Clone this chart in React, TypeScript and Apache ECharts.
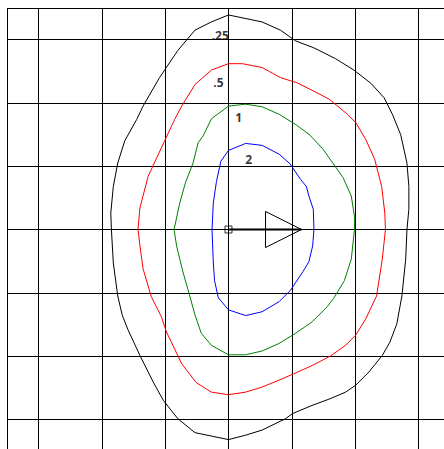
import React, { useEffect, useRef } from "react";
import * as echarts from "echarts";

// contour levels (labels) and colours
const levelLabels = [".25", ".5", "1", "2"];
const levelColors = ["#000000", "#ff0000", "#008000", "#0000ff"];

// contour loops in axis units, clockwise from the top
const contour025: [number, number][] = [
  [0, 3.39], [0.53, 3.28], [0.82, 3.15], [1.06, 2.98], [1.35, 2.87], [1.69, 2.7],
  [1.98, 2.52], [2.25, 2.31], [2.46, 2.08], [2.59, 1.82], [2.72, 1.5], [2.82, 1.05],
  [2.85, 0.68], [2.85, 0.32], [2.82, 0], [2.8, -0.47], [2.74, -1.05], [2.66, -1.49],
  [2.55, -1.78], [2.43, -1.99], [2.22, -2.25], [2.01, -2.46], [1.85, -2.57], [1.59, -2.68],
  [1.32, -2.78], [1.01, -2.91], [0.9, -2.99], [0.53, -3.17], [0.27, -3.25], [0, -3.32],
  [-0.53, -3.21], [-0.8, -2.99], [-1.03, -2.7], [-1.19, -2.41], [-1.4, -1.99], [-1.59, -1.58],
  [-1.68, -1.35], [-1.75, -1.05], [-1.82, -0.53], [-1.85, 0], [-1.86, 0.26], [-1.82, 0.68],
  [-1.75, 1.05], [-1.64, 1.4], [-1.45, 1.74], [-1.35, 1.95], [-1.09, 2.4], [-0.8, 2.83],
  [-0.53, 3.15], [-0.27, 3.28],
];
const contour05: [number, number][] = [
  [0, 2.62], [0.22, 2.62], [0.53, 2.56], [0.82, 2.4], [1.08, 2.32], [1.32, 2.2],
  [1.59, 2.06], [1.88, 1.82], [2.01, 1.69], [2.17, 1.42], [2.31, 1.11], [2.42, 0.68],
  [2.47, 0.26], [2.48, 0], [2.43, -0.47], [2.34, -1.05], [2.17, -1.41], [2.01, -1.67],
  [1.85, -1.83], [1.61, -2.0], [1.32, -2.15], [1.03, -2.28], [0.8, -2.38], [0.53, -2.49],
  [0.27, -2.57], [0, -2.61], [-0.27, -2.57], [-0.51, -2.42], [-0.74, -2.12], [-0.98, -1.62],
  [-1.06, -1.38], [-1.22, -1.06], [-1.35, -0.62], [-1.4, -0.25], [-1.43, 0], [-1.4, 0.34],
  [-1.27, 0.84], [-1.01, 1.4], [-0.85, 1.74], [-0.74, 1.95], [-0.53, 2.29], [-0.27, 2.52],
];
const contour1: [number, number][] = [
  [0, 1.95], [0.27, 1.98], [0.53, 1.94], [0.8, 1.82], [1.06, 1.66], [1.29, 1.49],
  [1.5, 1.26], [1.81, 0.82], [1.94, 0.53], [1.99, 0.21], [1.99, 0], [1.94, -0.47],
  [1.83, -0.81], [1.66, -1.09], [1.56, -1.22], [1.32, -1.46], [1.06, -1.64], [0.8, -1.8],
  [0.53, -1.92], [0.27, -1.98], [0, -1.98], [-0.27, -1.83], [-0.43, -1.64], [-0.53, -1.35],
  [-0.64, -0.95], [-0.72, -0.67], [-0.82, -0.26], [-0.86, 0], [-0.77, 0.42], [-0.68, 0.74],
  [-0.56, 1.05], [-0.48, 1.37], [-0.4, 1.48], [-0.27, 1.75],
];
const contour2: [number, number][] = [
  [0, 1.25], [0.27, 1.36], [0.53, 1.33], [0.8, 1.19], [0.97, 1.04], [1.14, 0.79],
  [1.23, 0.68], [1.27, 0.53], [1.34, 0.32], [1.35, 0], [1.33, -0.26], [1.27, -0.51],
  [1.18, -0.66], [0.98, -0.96], [0.8, -1.14], [0.53, -1.3], [0.27, -1.36], [0, -1.27],
  [-0.16, -1.08], [-0.22, -0.81], [-0.24, -0.53], [-0.26, 0], [-0.24, 0.42], [-0.19, 0.76],
  [-0.12, 1.08],
];

// label anchor points, one per level
const labelPoints: [number, number][] = [
  [-0.13, 3.06], [-0.16, 2.33], [0.16, 1.77], [0.32, 1.11],
];

// arrow (wind direction) and origin marker
const arrowTriangle: [number, number][] = [[0.585, 0.285], [1.154, 0], [0.585, -0.285]];
const arrowShaft: [number, number][] = [[0, 0], [1.154, 0]];
const originPoint: [number, number][] = [[0, 0]];

const xExtent = [-3.5, 3.5];
const yExtent = [-3.5, 3.5];

const closeLoop = (pts: [number, number][]) => [...pts, pts[0]];

export default function App() {
  const ref = useRef<HTMLDivElement>(null);

  useEffect(() => {
    if (!ref.current) return;
    const chart = echarts.init(ref.current, null, { renderer: "svg" });
    const contours = [contour025, contour05, contour1, contour2];

    const axisCommon = {
      type: "value" as const,
      axisLine: { show: false },
      axisTick: { show: false },
      axisLabel: { show: false },
      splitNumber: 5,
      splitLine: { show: true, lineStyle: { color: "#000", width: 1 } },
    };

    chart.setOption({
      animation: false,
      backgroundColor: "#fff",
      grid: {
        left: 7,
        top: 8,
        width: 443,
        height: 443,
        containLabel: false,
        outerBoundsMode: "none",
      },
      xAxis: { ...axisCommon, min: xExtent[0], max: xExtent[1] },
      yAxis: { ...axisCommon, min: yExtent[0], max: yExtent[1] },
      series: [
        {
          type: "line",
          data: arrowShaft,
          showSymbol: false,
          silent: true,
          lineStyle: { color: "#000", width: 2 },
        },
        ...contours.map((c, i) => ({
          type: "line",
          name: levelLabels[i],
          data: closeLoop(c),
          showSymbol: false,
          silent: true,
          lineStyle: { color: levelColors[i], width: 1 },
        })),
        {
          type: "line",
          data: closeLoop(arrowTriangle),
          showSymbol: false,
          silent: true,
          lineStyle: { color: "#000", width: 1 },
        },
        {
          type: "scatter",
          data: originPoint,
          symbol: "rect",
          symbolSize: 7,
          silent: true,
          itemStyle: { color: "rgba(0,0,0,0)", borderColor: "#000", borderWidth: 1 },
        },
        {
          type: "scatter",
          data: labelPoints.map((p, i) => ({ value: p, name: levelLabels[i] })),
          symbolSize: 1,
          silent: true,
          itemStyle: { color: "rgba(0,0,0,0)" },
          label: {
            show: true,
            position: "inside",
            formatter: "{b}",
            color: "#000",
            fontSize: 12,
            fontWeight: "bold",
            fontFamily: "Open Sans",
          },
        },
      ],
    });
    return () => chart.dispose();
  }, []);

  return (
    <div
      ref={ref}
      style={{ position: "absolute", left: 0, top: 0, width: 444, height: 449, overflow: "hidden", background: "#fff" }}
    />
  );
}
